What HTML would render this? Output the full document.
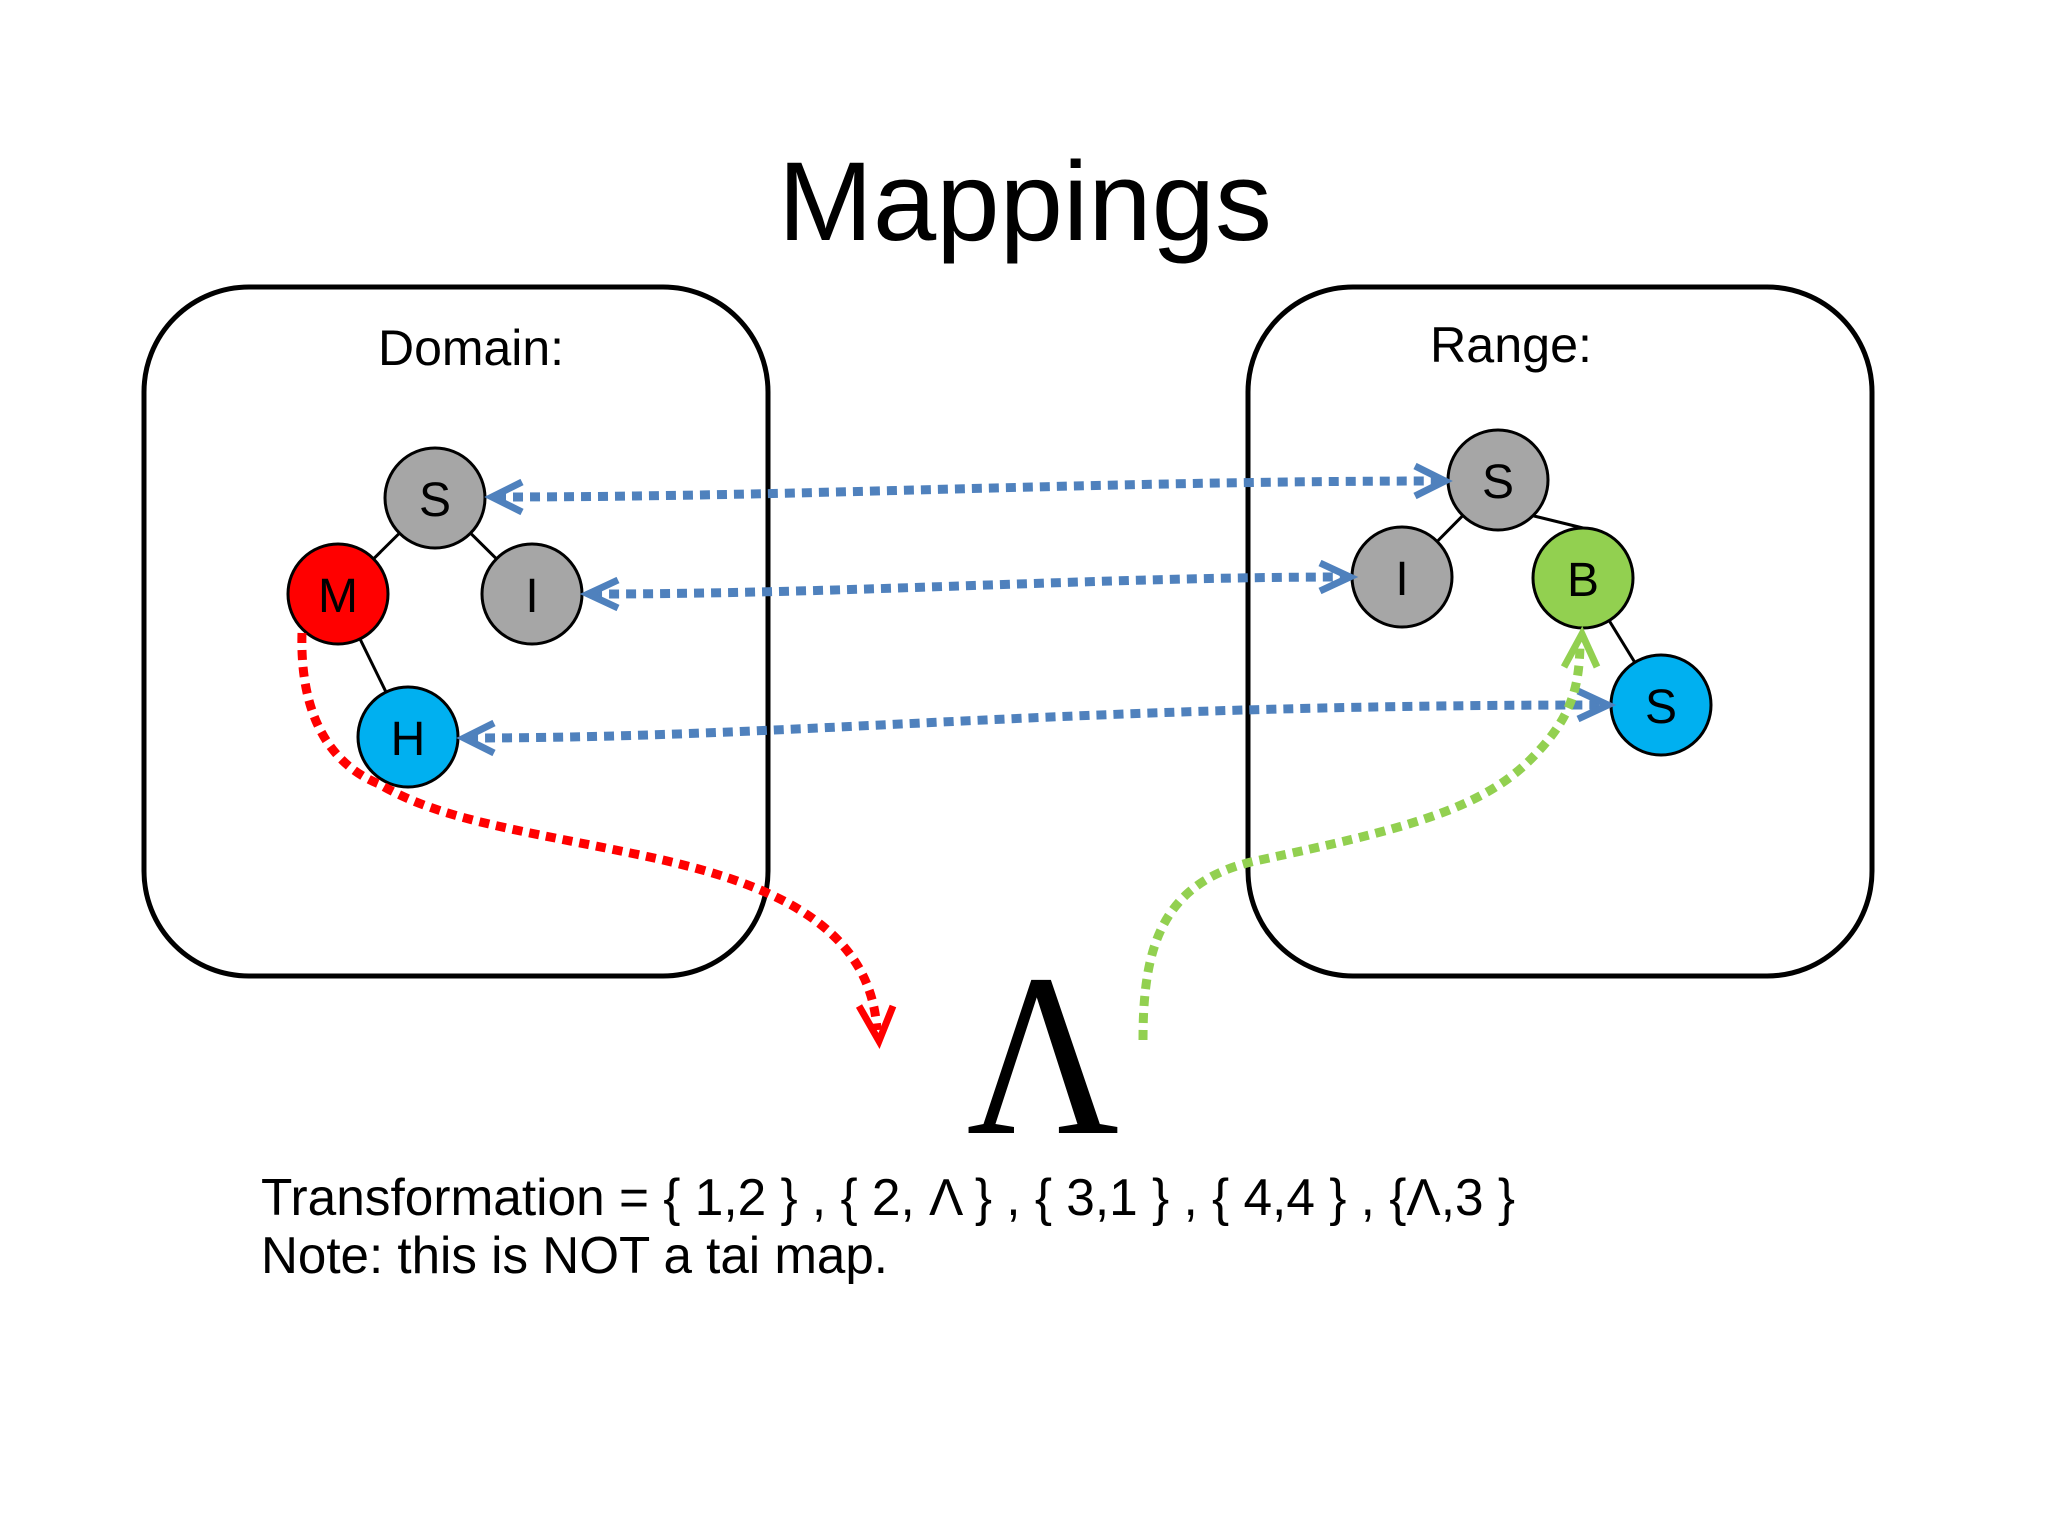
<!DOCTYPE html>
<html><head><meta charset="utf-8"><style>
html,body{margin:0;padding:0;background:#fff;}
svg{display:block;}
</style></head><body>
<svg width="2048" height="1536" viewBox="0 0 2048 1536" xmlns="http://www.w3.org/2000/svg">
<rect width="2048" height="1536" fill="#fff"/>
<text x="1025" y="240" text-anchor="middle" font-family="Liberation Sans, sans-serif" font-size="112" textLength="494" lengthAdjust="spacingAndGlyphs">Mappings</text>
<rect x="144" y="287" width="624" height="689" rx="105" ry="105" fill="none" stroke="#000" stroke-width="5"/>
<rect x="1248" y="287" width="624" height="689" rx="105" ry="105" fill="none" stroke="#000" stroke-width="5"/>
<text x="471" y="365" text-anchor="middle" font-family="Liberation Sans, sans-serif" font-size="50" textLength="186" lengthAdjust="spacingAndGlyphs">Domain:</text>
<text x="1511" y="362" text-anchor="middle" font-family="Liberation Sans, sans-serif" font-size="50" textLength="162" lengthAdjust="spacingAndGlyphs">Range:</text>
<g stroke="#000" stroke-width="3">
<line x1="435" y1="498" x2="338" y2="594"/><line x1="435" y1="498" x2="532" y2="594"/><line x1="338" y1="594" x2="408" y2="737"/>
<line x1="1498" y1="480" x2="1402" y2="577"/><line x1="1530" y1="515" x2="1583" y2="528"/><line x1="1583" y1="578" x2="1661" y2="705"/>
</g>
<g stroke="#000" stroke-width="3">
<circle cx="435" cy="498" r="50" fill="#a6a6a6"/><circle cx="338" cy="594" r="50" fill="#ff0000"/><circle cx="532" cy="594" r="50" fill="#a6a6a6"/><circle cx="408" cy="737" r="50" fill="#00b0f0"/>
<circle cx="1498" cy="480" r="50" fill="#a6a6a6"/><circle cx="1402" cy="577" r="50" fill="#a6a6a6"/><circle cx="1583" cy="578" r="50" fill="#92d050"/><circle cx="1661" cy="705" r="50" fill="#00b0f0"/>
</g>
<g font-family="Liberation Sans, sans-serif" font-size="48" text-anchor="middle" fill="#000">
<text x="435" y="516">S</text><text x="338" y="612">M</text><text x="532" y="612">I</text><text x="408" y="755">H</text>
<text x="1498" y="498">S</text><text x="1402" y="595">I</text><text x="1583" y="596">B</text><text x="1661" y="723">S</text>
</g>
<g fill="none" stroke="#4f81bd" stroke-width="9" stroke-dasharray="10 7">
<path d="M496,497 C800,497 1100,481 1440,481"/>
<path d="M592,594 C850,594 1100,577 1345,577"/>
<path d="M468,738 C800,738 1050,705 1602,705"/>
</g>
<g fill="none" stroke="#4f81bd" stroke-width="7">
<path d="M522,482 L492,497 L522,512"/><path d="M618,580 L588,594 L618,608"/><path d="M494,723 L464,738 L494,753"/>
<path d="M1415,466 L1445,481 L1415,496"/><path d="M1320,563 L1350,577 L1320,591"/><path d="M1578,691 L1608,705 L1578,719"/>
</g>
<path d="M302,633 C300,700 320,760 379,784 C440,820 520,830 640,855 C760,880 870,920 877,1030" fill="none" stroke="#ff0000" stroke-width="9" stroke-dasharray="10 7"/>
<path d="M859,1006 L879,1041 L893,1006" fill="none" stroke="#ff0000" stroke-width="7"/>
<path d="M1143,1040 C1143,950 1160,880 1260,860 C1400,830 1480,810 1530,760 C1570,720 1580,690 1580,640" fill="none" stroke="#92d050" stroke-width="9" stroke-dasharray="10 7"/>
<path d="M1564,667 L1582,634 L1597,667" fill="none" stroke="#92d050" stroke-width="7"/>
<text x="1043" y="1133" text-anchor="middle" font-family="Liberation Serif, serif" font-size="232" textLength="153" lengthAdjust="spacingAndGlyphs">Λ</text>
<text x="261" y="1215" font-family="Liberation Sans, sans-serif" font-size="52" textLength="1254" lengthAdjust="spacingAndGlyphs">Transformation = { 1,2 } , { 2, Λ } , { 3,1 } , { 4,4 } , {Λ,3 }</text>
<text x="261" y="1273" font-family="Liberation Sans, sans-serif" font-size="52" textLength="627" lengthAdjust="spacingAndGlyphs">Note: this is NOT a tai map.</text>
</svg>
</body></html>
